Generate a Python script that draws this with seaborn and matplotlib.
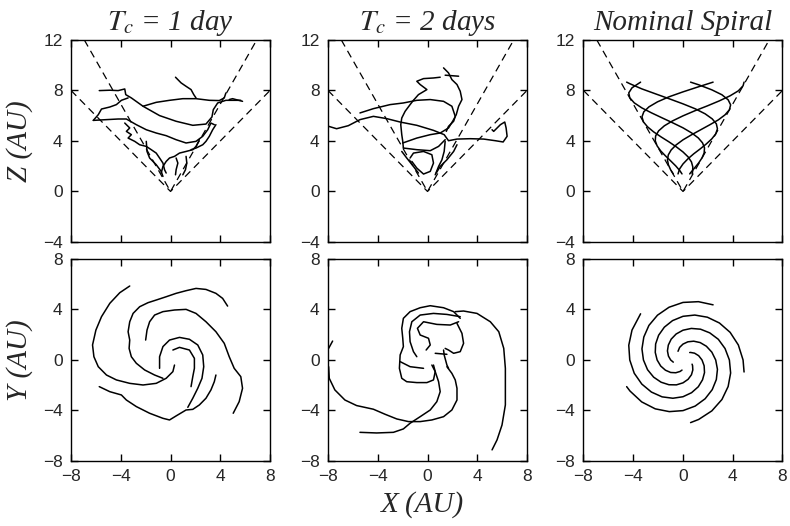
import seaborn as sns
import matplotlib.pyplot as plt

# cone guide lines for the X-Z panels (45 and 60 degree cones)
cone45_x = [-8, 0, 8]
cone45_z = [8, 0, 8]
cone60_x = [-6.93, 0, 6.93]
cone60_z = [12, 0, 12]

# ---------------- nominal spiral: 5 field lines (x, y, z) ----------------
nom1_x = [2.42, 1.24, 0, -1.12, -2.05, -2.74, -3.15, -3.30, -3.18, -2.85, -2.36, -1.76, -1.13, -0.53, 0, 0.41, 0.68, 0.79, 0.77, 0.73]
nom1_y = [4.37, 4.62, 4.56, 4.18, 3.55, 2.74, 1.82, 0.88, 0, -0.77, -1.36, -1.76, -1.96, -1.97, -1.81, -1.53, -1.17, -0.79, -0.45, -0.33]
nom1_z = [8.66, 8.29, 7.89, 7.50, 7.10, 6.70, 6.31, 5.91, 5.51, 5.12, 4.72, 4.32, 3.93, 3.53, 3.13, 2.74, 2.34, 1.94, 1.55, 1.39]

nom2_x = [-3.41, -4.10, -4.36, -4.28, -3.92, -3.31, -2.54, -1.68, -0.81, 0, 0.69, 1.23, 1.57, 1.73, 1.70, 1.53, 1.26, 0.93, 0.60, 0.54]
nom2_y = [3.66, 2.37, 1.17, 0, -1.05, -1.91, -2.54, -2.92, -3.03, -2.91, -2.59, -2.12, -1.57, -1.00, -0.46, 0, 0.34, 0.54, 0.60, 0.59]
nom2_z = [8.66, 8.21, 7.81, 7.42, 7.02, 6.62, 6.23, 5.83, 5.43, 5.04, 4.64, 4.24, 3.85, 3.45, 3.05, 2.66, 2.26, 1.86, 1.47, 1.39]

nom3_x = [-4.53, -4.26, -3.32, -2.23, -1.10, 0, 0.98, 1.78, 2.35, 2.68, 2.77, 2.63, 2.32, 1.88, 1.38, 0.86, 0.39, 0, -0.27, -0.40]
nom3_y = [-2.11, -2.46, -3.32, -3.87, -4.09, -4.01, -3.65, -3.07, -2.35, -1.55, -0.74, 0, 0.62, 1.09, 1.38, 1.49, 1.44, 1.26, 1.00, 0.69]
nom3_z = [8.66, 8.53, 8.13, 7.74, 7.34, 6.94, 6.55, 6.15, 5.75, 5.36, 4.96, 4.56, 4.17, 3.77, 3.37, 2.98, 2.58, 2.18, 1.79, 1.39]

nom4_x = [0.61, 1.26, 2.32, 3.13, 3.63, 3.83, 3.73, 3.38, 2.84, 2.15, 1.41, 0.67, 0, -0.55, -0.95, -1.18, -1.25, -1.17, -0.99, -0.78]
nom4_y = [-4.96, -4.71, -4.03, -3.13, -2.10, -1.03, 0, 0.91, 1.64, 2.15, 2.44, 2.50, 2.36, 2.06, 1.65, 1.18, 0.72, 0.31, 0, -0.17]
nom4_z = [8.66, 8.45, 8.05, 7.66, 7.26, 6.86, 6.47, 6.07, 5.67, 5.28, 4.88, 4.48, 4.09, 3.69, 3.29, 2.90, 2.50, 2.10, 1.71, 1.39]

nom5_x = [4.91, 4.83, 4.45, 3.79, 2.93, 1.96, 0.95, 0, -0.84, -1.50, -1.96, -2.20, -2.23, -2.08, -1.79, -1.41, -0.99, -0.58, -0.24, -0.08]
nom5_y = [-0.95, 0, 1.19, 2.19, 2.93, 3.39, 3.56, 3.46, 3.12, 2.60, 1.96, 1.27, 0.60, 0, -0.48, -0.81, -0.99, -1.01, -0.91, -0.80]
nom5_z = [8.66, 8.37, 7.97, 7.58, 7.18, 6.78, 6.39, 5.99, 5.59, 5.20, 4.80, 4.40, 4.01, 3.61, 3.21, 2.82, 2.42, 2.02, 1.63, 1.39]

# ---------------- Tc = 1 day, X-Z ----------------
d1z_a_x = [-5.73, -4.88, -4.21, -3.68, -3.60, -3.15, -2.21, -0.88, 0.45, 1.79, 2.85, 3.33, 3.44, 3.79, 4.45, 5.65]
d1z_a_z = [7.99, 8.02, 7.99, 8.12, 7.67, 7.41, 6.75, 6.01, 5.56, 5.24, 5.34, 5.90, 6.48, 7.01, 7.22, 7.22]
d1z_b_x = [-2.21, -1.15, -0.08, 0.99, 2.05, 3.12, 3.92, 4.32, 4.45]
d1z_b_z = [6.75, 7.06, 7.22, 7.35, 7.35, 7.22, 7.20, 7.41, 7.80]
d1z_c_x = [0.40, 0.85, 1.25, 1.65, 1.87, 2.05]
d1z_c_z = [9.05, 8.60, 8.33, 8.07, 7.67, 7.41]
d1z_d_x = [-6.21, -5.81, -5.55, -4.88, -4.35, -3.95, -3.41]
d1z_d_z = [5.63, 6.08, 6.53, 6.69, 6.88, 7.22, 7.41]
d1z_e_x = [-6.21, -5.15, -4.21, -3.55, -2.75, -1.95, -1.15, -0.35, 0.45, 1.25, 2.05, 2.59, 2.99, 3.25, 3.52]
d1z_e_z = [5.63, 5.69, 5.74, 5.74, 5.29, 4.89, 4.63, 4.42, 4.10, 3.84, 3.97, 4.37, 4.89, 5.42, 5.29]
d1z_f_x = [-3.68, -3.28, -3.55, -3.15, -3.41, -2.88, -2.48, -1.95, -1.55, -1.15, -0.88, -0.61, -0.48, -0.35]
d1z_f_z = [5.42, 5.03, 4.76, 4.50, 4.23, 3.97, 3.70, 3.57, 3.31, 3.04, 2.65, 2.25, 1.72, 1.46]
d1z_g_x = [-1.95, -1.89, -1.68, -1.15, -0.75, -0.61]
d1z_g_z = [3.97, 3.17, 2.65, 2.12, 1.59, 1.19]
d1z_h_x = [2.32, 2.05, 1.79, 1.25, 0.72, 0.32, -0.08, -0.35, -0.61, -0.75]
d1z_h_z = [4.10, 3.57, 3.31, 3.17, 3.04, 2.78, 2.65, 2.38, 1.98, 1.46]
d1z_i_x = [0.45, 0.59, 0.45, 0.40]
d1z_i_z = [2.65, 2.25, 1.72, 1.32]
d1z_j_x = [1.25, 1.31, 1.20, 0.99]
d1z_j_z = [2.78, 2.25, 1.72, 1.32]
d1z_k_x = [3.65, 3.39, 3.12, 2.85, 2.59, 2.32, 2.05, 1.65]
d1z_k_z = [5.29, 4.89, 4.37, 3.97, 3.70, 3.57, 3.44, 3.31]
d1z_l_x = [4.72, 4.99, 5.79]
d1z_l_z = [7.28, 7.35, 7.14]

# ---------------- Tc = 1 day, X-Y ----------------
d1y_a_x = [-3.28, -4.08, -4.88, -5.55, -6.00, -6.27, -6.16, -5.81, -5.15, -4.35, -3.28, -2.21, -1.15, -0.35, 0.19, 0.32]
d1y_a_y = [5.86, 5.33, 4.49, 3.43, 2.37, 1.19, 0.26, -0.53, -1.19, -1.58, -1.85, -1.98, -1.85, -1.45, -0.92, -0.40]
d1y_b_x = [-5.73, -4.88, -3.95, -3.55, -2.75, -1.68, -0.61, -0.08, 0.45, 1.25, 1.79, 2.32, 2.85, 3.25, 3.52, 3.65]
d1y_b_y = [-2.11, -2.51, -2.77, -3.17, -3.69, -4.22, -4.62, -4.75, -4.43, -3.96, -3.91, -3.56, -3.03, -2.37, -1.72, -1.19]
d1y_c_x = [4.59, 4.19, 3.65, 2.85, 2.05, 1.25, 0.45, -0.35, -1.15, -1.81, -2.48, -3.01, -3.28, -3.41, -3.28, -3.33, -3.15, -2.75, -2.08, -1.28, -0.61]
d1y_c_y = [4.27, 4.88, 5.28, 5.59, 5.67, 5.49, 5.28, 5.01, 4.75, 4.54, 4.22, 3.69, 3.03, 2.24, 1.58, 0.92, 0.26, -0.26, -0.79, -1.19, -1.45]
d1y_d_x = [5.04, 5.52, 5.79, 5.65, 5.12, 4.72, 4.32, 3.65, 2.85, 2.05, 1.25, 0.32, -0.61, -1.28, -1.68, -1.89, -2.00]
d1y_d_y = [-4.22, -3.30, -2.24, -1.32, -0.66, 0.26, 1.32, 2.24, 3.03, 3.69, 4.01, 3.96, 3.83, 3.56, 3.03, 2.37, 1.58]
d1y_e_x = [-0.88, -0.88, -0.61, -0.08, 0.72, 1.52, 2.19, 2.59, 2.67, 2.53, 2.19, 1.79, 1.39]
d1y_e_y = [-0.66, 0.26, 1.06, 1.58, 1.79, 1.64, 1.19, 0.40, -0.53, -1.45, -2.24, -3.03, -3.75]
d1y_f_x = [0.19, 0.72, 1.52, 1.92, 1.92, 1.79, 1.65]
d1y_f_y = [0.79, 1.00, 0.79, 0.13, -0.66, -1.32, -2.11]

# ---------------- Tc = 2 days, X-Z ----------------
d2z_a_x = [-7.95, -7.31, -6.37, -5.43, -4.35, -3.28, -2.20, -0.86, 0.48, 1.34, 1.69, 2.37, 3.44, 4.52, 5.46, 6.08, 6.40, 6.32, 6.21, 5.86, 5.32, 5.19]
d2z_a_z = [5.16, 4.97, 5.21, 5.69, 5.95, 5.77, 5.50, 5.24, 4.84, 4.50, 4.02, 4.15, 4.18, 4.15, 4.02, 3.92, 4.37, 5.03, 5.50, 5.29, 4.76, 4.89]
d2z_b_x = [-5.43, -4.35, -3.01, -1.94, -0.86, 0.22, 1.29, 1.96, 2.23, 2.10, 1.69, 1.51]
d2z_b_z = [6.22, 6.56, 6.88, 7.01, 7.22, 7.28, 7.14, 6.75, 5.95, 5.56, 5.16, 4.76]
d2z_c_x = [1.29, 1.69, 1.96, 2.37, 2.63, 2.77, 2.50, 2.31, 2.10]
d2z_c_z = [9.79, 9.39, 8.86, 8.47, 7.94, 7.28, 6.75, 6.08, 5.69]
d2z_d_x = [1.42, 2.50]
d2z_d_z = [9.21, 9.13]
d2z_e_x = [-1.13, -1.40, -1.80, -2.07, -2.15, -2.07, -1.99, -1.94]
d2z_e_z = [7.22, 6.88, 6.35, 5.82, 5.29, 4.50, 3.97, 3.44]
d2z_f_x = [-1.13, -0.73, -0.05, -0.59, -0.86, -0.32, 0.48, 1.02]
d2z_f_z = [7.22, 7.67, 8.07, 8.47, 8.73, 8.94, 8.99, 9.05]
d2z_g_x = [-1.99, -0.86, 0.22, 1.02, 1.69, 2.10]
d2z_g_z = [3.84, 4.23, 4.50, 4.63, 5.03, 5.69]
d2z_h_x = [-1.94, -0.86, 0.22, 0.89, 1.42]
d2z_h_z = [3.44, 3.31, 3.23, 3.57, 4.10]
d2z_i_x = [-1.40, -1.13, -0.32, 0.35, 0.48, 0.22, -0.32, -0.86, -1.26]
d2z_i_z = [2.65, 3.04, 3.17, 2.91, 2.25, 1.59, 1.38, 1.85, 2.38]
d2z_j_x = [-2.07, -1.67, -1.13, -0.73]
d2z_j_z = [3.17, 2.65, 1.98, 1.46]
d2z_k_x = [1.42, 1.34, 1.16, 0.89, 0.62]
d2z_k_z = [3.97, 3.17, 2.51, 1.98, 1.32]
d2z_l_x = [2.37, 2.10, 1.56, 1.02, 0.70]
d2z_l_z = [3.70, 3.17, 2.51, 1.98, 1.46]

# ---------------- Tc = 2 days, X-Y ----------------
d2y_a_x = [-7.95, -7.90, -7.45, -6.64, -5.70, -4.35, -3.41, -2.47, -1.53, -0.59, 0.35, 1.29, 1.96, 2.37, 2.37, 2.23, 1.96, 1.56]
d2y_a_y = [-0.53, -1.45, -2.37, -3.17, -3.61, -3.90, -4.30, -4.67, -4.88, -4.88, -4.75, -4.49, -3.96, -3.17, -2.24, -1.58, -1.06, -0.53]
d2y_b_x = [-7.95, -7.63]
d2y_b_y = [0.92, 1.50]
d2y_c_x = [-5.43, -4.09, -2.74, -1.94, -1.40, -0.59, 0.22, 0.75, 1.02, 0.89, 0.62, 0.35]
d2y_c_y = [-5.73, -5.78, -5.73, -5.46, -5.01, -4.49, -3.96, -3.30, -2.51, -1.72, -0.92, -0.40]
d2y_d_x = [2.23, 2.90, 3.98, 5.05, 5.73, 6.13, 6.26, 6.26, 6.26, 5.99, 5.59, 5.19]
d2y_d_y = [3.83, 3.88, 3.69, 3.03, 2.24, 0.92, -0.66, -2.24, -3.56, -5.15, -6.33, -7.12]
d2y_e_x = [2.63, 2.10, 1.29, 0.22, -0.59, -1.40, -1.94, -2.07, -1.99, -1.94, -2.20, -2.26, -2.07, -1.67, -0.86, -0.05, 0.48, 0.62, 0.48]
d2y_e_y = [3.30, 3.83, 4.14, 4.30, 4.14, 3.83, 3.30, 2.51, 1.72, 1.06, 0.40, -0.66, -1.45, -1.72, -1.79, -1.79, -1.58, -0.92, -0.40]
d2y_f_x = [2.63, 1.56, 0.48, -0.59, -1.26, -1.45, -1.40, -1.13, -0.86]
d2y_f_y = [3.43, 3.61, 3.69, 3.56, 3.03, 2.24, 1.45, 0.66, 0.26]
d2y_g_x = [2.50, 1.83, 0.75, -0.32, -0.81, -0.59, 0.08, 0.22, -0.11]
d2y_g_y = [3.03, 2.77, 2.82, 3.03, 2.51, 1.98, 1.72, 1.19, 0.79]
d2y_h_x = [2.37, 2.77, 2.90, 2.63, 2.10, 1.69, 1.42]
d2y_h_y = [2.90, 2.11, 1.32, 0.66, 0.53, 0.79, 0.92]
d2y_i_x = [-2.20, -1.40, -0.32]
d2y_i_y = [-0.13, -0.53, -0.66]
d2y_j_x = [1.29, 1.34, 1.56, 1.69]
d2y_j_y = [0.79, 0.40, -0.40, -0.66]
d2y_k_x = [0.62, 1.56]
d2y_k_y = [0.53, 0.45]

xticks = [-8, -4, 0, 4, 8]
zticks = [-4, 0, 4, 8, 12]
yticks = [-8, -4, 0, 4, 8]
titles = ["$T_c$ = 1 day", "$T_c$ = 2 days", "Nominal Spiral"]

sns.set_theme(style="ticks")
plt.rcParams["font.family"] = ["Liberation Sans", "DejaVu Sans"]
plt.rcParams["mathtext.fontset"] = "stix"
plt.rcParams["xtick.direction"] = "in"
plt.rcParams["ytick.direction"] = "in"

serif = dict(family="Liberation Serif", style="italic", fontsize=21)

fig = plt.figure(figsize=(7.9, 5.26), dpi=100)
lefts = [0.0899, 0.4152, 0.7386]
w, h = 0.2519, 0.384
top_axes = [fig.add_axes([l, 0.540, w, h]) for l in lefts]
bot_axes = [fig.add_axes([l, 0.1236, w, h]) for l in lefts]

top_lines = [
    [(d1z_a_x, d1z_a_z), (d1z_b_x, d1z_b_z), (d1z_c_x, d1z_c_z), (d1z_d_x, d1z_d_z),
     (d1z_e_x, d1z_e_z), (d1z_f_x, d1z_f_z), (d1z_g_x, d1z_g_z), (d1z_h_x, d1z_h_z),
     (d1z_i_x, d1z_i_z), (d1z_j_x, d1z_j_z), (d1z_k_x, d1z_k_z), (d1z_l_x, d1z_l_z)],
    [(d2z_a_x, d2z_a_z), (d2z_b_x, d2z_b_z), (d2z_c_x, d2z_c_z), (d2z_d_x, d2z_d_z),
     (d2z_e_x, d2z_e_z), (d2z_f_x, d2z_f_z), (d2z_g_x, d2z_g_z), (d2z_h_x, d2z_h_z),
     (d2z_i_x, d2z_i_z), (d2z_j_x, d2z_j_z), (d2z_k_x, d2z_k_z), (d2z_l_x, d2z_l_z)],
    [(nom1_x, nom1_z), (nom2_x, nom2_z), (nom3_x, nom3_z), (nom4_x, nom4_z), (nom5_x, nom5_z)],
]
bot_lines = [
    [(d1y_a_x, d1y_a_y), (d1y_b_x, d1y_b_y), (d1y_c_x, d1y_c_y), (d1y_d_x, d1y_d_y),
     (d1y_e_x, d1y_e_y), (d1y_f_x, d1y_f_y)],
    [(d2y_a_x, d2y_a_y), (d2y_b_x, d2y_b_y), (d2y_c_x, d2y_c_y), (d2y_d_x, d2y_d_y),
     (d2y_e_x, d2y_e_y), (d2y_f_x, d2y_f_y), (d2y_g_x, d2y_g_y), (d2y_h_x, d2y_h_y),
     (d2y_i_x, d2y_i_y), (d2y_j_x, d2y_j_y), (d2y_k_x, d2y_k_y)],
    [(nom1_x, nom1_y), (nom2_x, nom2_y), (nom3_x, nom3_y), (nom4_x, nom4_y), (nom5_x, nom5_y)],
]


def style_axis(ax, yt):
    ax.set_xlim(-8, 8)
    ax.set_ylim(yt[0], yt[-1])
    ax.set_xticks(xticks)
    ax.set_yticks(yt)
    ax.tick_params(top=True, right=True, length=5, width=1, labelsize=12.5, pad=6, color="black")
    for s in ax.spines.values():
        s.set_linewidth(1.0)
        s.set_color("black")
    ax.set_xlabel("")
    ax.set_ylabel("")


for i, ax in enumerate(top_axes):
    sns.lineplot(x=cone45_x, y=cone45_z, sort=False, estimator=None, color="black",
                 lw=0.9, linestyle=(0, (6, 4)), ax=ax)
    sns.lineplot(x=cone60_x, y=cone60_z, sort=False, estimator=None, color="black",
                 lw=0.9, linestyle=(0, (6, 4)), ax=ax)
    for lx, lz in top_lines[i]:
        sns.lineplot(x=lx, y=lz, sort=False, estimator=None, color="black", lw=1.1, ax=ax)
    style_axis(ax, zticks)
    ax.tick_params(labelbottom=False)
    ax.set_title(titles[i], pad=7, **serif)

for i, ax in enumerate(bot_axes):
    for lx, ly in bot_lines[i]:
        sns.lineplot(x=lx, y=ly, sort=False, estimator=None, color="black", lw=1.1, ax=ax)
    style_axis(ax, yticks)

fig.text(0.025, 0.732, "Z (AU)", rotation=90, ha="center", va="center", **serif)
fig.text(0.025, 0.316, "Y (AU)", rotation=90, ha="center", va="center", **serif)
fig.text(0.535, 0.04, "X (AU)", ha="center", va="center", **serif)

fig.savefig("out.png", dpi=100)
